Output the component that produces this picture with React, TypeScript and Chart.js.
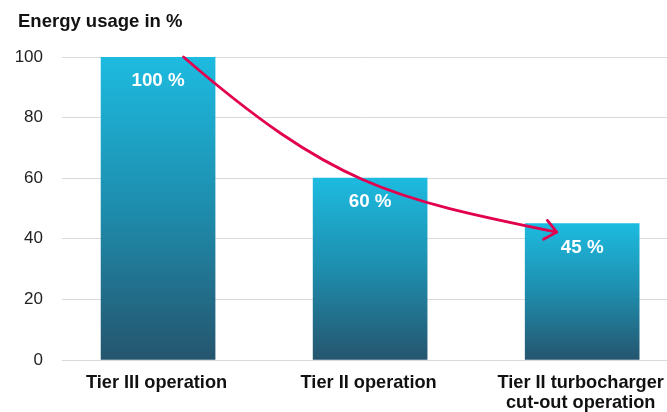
import React, { useEffect, useRef } from "react";
import { Chart, registerables } from "chart.js";

Chart.register(...registerables);

const categories: string[][] = [["Tier III operation"], ["Tier II operation"], ["Tier II turbocharger", "cut-out operation"]];
const positions: number[] = [0, 1, 2];
const energyValues: number[] = [100, 60, 45];
const valueLabels: string[] = ["100 %", "60 %", "45 %"];
const yTicks: number[] = [0, 20, 40, 60, 80, 100];
const chartTitle = "Energy usage in %";
// arrow annotation in data units: start, control1, control2, end  [x, y]
const arrowStart: number[] = [0.12, 100];
const arrowCtrl1: number[] = [0.82, 57.8];
const arrowCtrl2: number[] = [1.09, 53.5];
const arrowEnd: number[] = [1.88, 42.2];

const FONT = "'Liberation Sans', Arial, Helvetica, sans-serif";

export default function App() {
  const ref = useRef<HTMLCanvasElement | null>(null);
  useEffect(() => {
    const canvas = ref.current;
    if (!canvas) return;

    const overlay = {
      id: "overlay",
      afterDatasetsDraw(chart: any) {
        const ctx = chart.ctx;
        const xs = chart.scales.x;
        const ys = chart.scales.y;
        // value labels
        const meta = chart.getDatasetMeta(0);
        ctx.save();
        ctx.fillStyle = "#ffffff";
        ctx.font = `bold 18.8px ${FONT}`;
        ctx.textAlign = "center";
        ctx.textBaseline = "middle";
        meta.data.forEach((bar: any, i: number) => {
          ctx.fillText(valueLabels[i], bar.x, bar.y + 24);
        });
        ctx.restore();
        // arrow
        const p = (a: number[]) => [xs.getPixelForValue(a[0]), ys.getPixelForValue(a[1])];
        const s = p(arrowStart), c1 = p(arrowCtrl1), c2 = p(arrowCtrl2), e = p(arrowEnd);
        ctx.save();
        ctx.strokeStyle = "#e2004f";
        ctx.lineWidth = 2.8;
        ctx.lineCap = "round";
        ctx.lineJoin = "round";
        ctx.beginPath();
        ctx.moveTo(s[0], s[1]);
        ctx.bezierCurveTo(c1[0], c1[1], c2[0], c2[1], e[0], e[1]);
        ctx.stroke();
        const ang = Math.atan2(e[1] - c2[1], e[0] - c2[0]);
        const len = 15;
        const spread = (40 * Math.PI) / 180;
        ctx.beginPath();
        ctx.moveTo(e[0] - len * Math.cos(ang - spread), e[1] - len * Math.sin(ang - spread));
        ctx.lineTo(e[0], e[1]);
        ctx.lineTo(e[0] - len * Math.cos(ang + spread), e[1] - len * Math.sin(ang + spread));
        ctx.stroke();
        ctx.restore();
        // title
        ctx.save();
        ctx.fillStyle = "#111111";
        ctx.font = `bold 18.5px ${FONT}`;
        ctx.textAlign = "left";
        ctx.textBaseline = "alphabetic";
        ctx.fillText(chartTitle, 18, 27);
        ctx.restore();
      },
    };

    const chart = new Chart(canvas, {
      type: "bar",
      data: {
        datasets: [
          {
            data: positions.map((x, i) => ({ x, y: energyValues[i] })),
            barThickness: 114,
            borderWidth: 0,
            backgroundColor: (c: any) => {
              const ch = c.chart;
              const ys = ch.scales.y;
              if (!ys || c.dataIndex === undefined || c.raw === undefined) return "#1d8fb0";
              const v = energyValues[c.dataIndex];
              const top = ys.getPixelForValue(v);
              const bottom = ys.getPixelForValue(0);
              if (!isFinite(top) || !isFinite(bottom) || top === bottom) return "#1d8fb0";
              const g = ch.ctx.createLinearGradient(0, top, 0, bottom);
              g.addColorStop(0, "#1dbbe0");
              g.addColorStop(0.5, "#1e8dad");
              g.addColorStop(1, "#25556e");
              return g;
            },
          },
        ],
      },
      options: {
        responsive: false,
        animation: false,
        layout: { padding: { top: 57, left: 0, right: 0, bottom: 0 } },
        plugins: { legend: { display: false }, tooltip: { enabled: false }, title: { display: false } },
        scales: {
          x: {
            type: "linear",
            min: -0.453,
            max: 2.4,
            offset: false,
            grid: { display: false, drawTicks: false, offset: false },
            border: { display: false },
            afterBuildTicks: (axis: any) => {
              axis.ticks = positions.map((v) => ({ value: v }));
            },
            afterFit: (axis: any) => {
              axis.height = 52;
              axis.paddingLeft = 0;
              axis.paddingRight = 0;
            },
            ticks: {
              autoSkip: false,
              maxRotation: 0,
              padding: 13,
              labelOffset: -1.5,
              color: "#111111",
              font: { family: FONT, size: 18.2, weight: "bold", lineHeight: "20px" },
              callback: (v: any) => {
                const i = positions.indexOf(Number(v));
                return i >= 0 ? categories[i] : "";
              },
            },
          },
          y: {
            min: 0,
            max: 100,
            afterBuildTicks: (axis: any) => {
              axis.ticks = yTicks.map((v) => ({ value: v }));
            },
            afterFit: (axis: any) => {
              axis.width = 62;
            },
            grid: { color: "#d9d9d9", lineWidth: 1, drawTicks: false },
            border: { display: false },
            ticks: {
              padding: 19,
              color: "#222222",
              font: { family: FONT, size: 17 },
            },
          },
        },
      },
      plugins: [overlay],
    } as any);
    return () => chart.destroy();
  }, []);

  return (
    <div style={{ position: "fixed", left: 0, top: 0, width: 667, height: 412, background: "#fff" }}>
      <canvas ref={ref} width={667} height={412} style={{ width: 667, height: 412, display: "block" }} />
    </div>
  );
}
